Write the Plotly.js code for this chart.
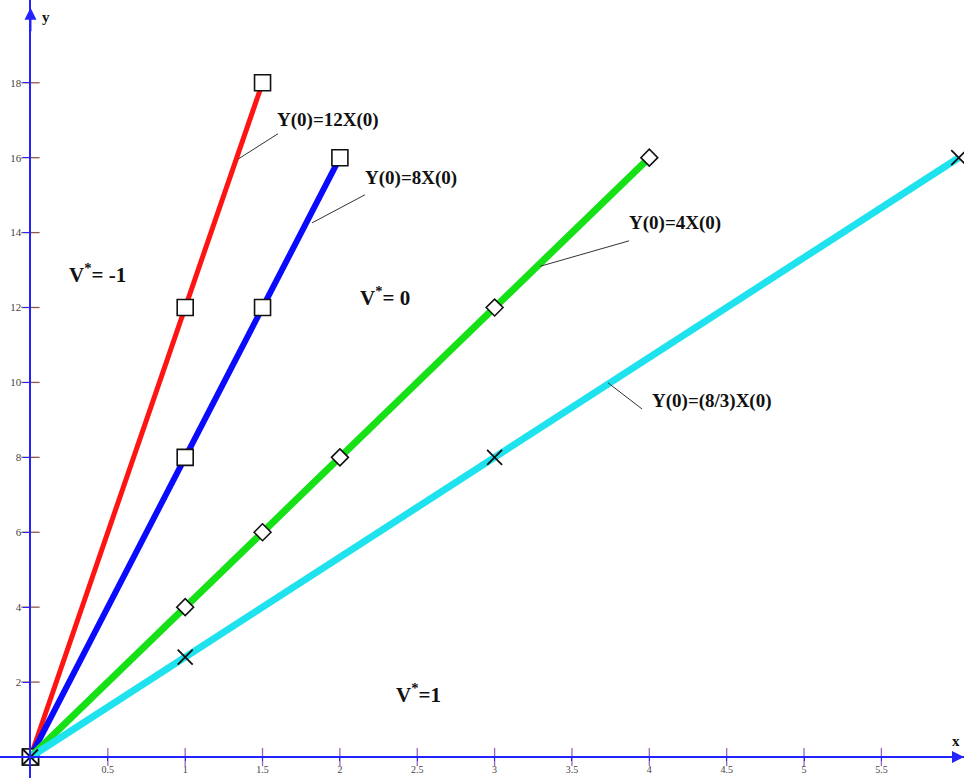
<!DOCTYPE html>
<html>
<head>
<meta charset="utf-8">
<script src="https://cdn.plot.ly/plotly-3.0.1.min.js"></script>
<style>html,body{margin:0;padding:0;background:#fff;}#chart{width:964px;height:778px;}</style>
</head>
<body>
<div id="chart"></div>
<script>
// ---- data ----
const redX = [0, 1, 1.5];
const redY = [0, 12, 18];
const blueX = [0, 1, 1.5, 2];
const blueY = [0, 8, 12, 16];
const greenX = [0, 1, 1.5, 2, 3, 4];
const greenY = [0, 4, 6, 8, 12, 16];
const cyanX = [0, 1, 3, 6];
const cyanY = [0, 2.667, 8, 16];

const xTickVals = [0.5, 1, 1.5, 2, 2.5, 3, 3.5, 4, 4.5, 5, 5.5];
const xTickText = ['0.5', '1', '1.5', '2', '2.5', '3', '3.5', '4', '4.5', '5', '5.5'];
const yTickVals = [2, 4, 6, 8, 10, 12, 14, 16, 18];
const yTickText = ['2', '4', '6', '8', '10', '12', '14', '16', '18'];

const lineLabels = ['Y(0)=12X(0)', 'Y(0)=8X(0)', 'Y(0)=4X(0)', 'Y(0)=(8/3)X(0)'];
const regionLabels = ['V<sup>*</sup>= -1', 'V<sup>*</sup>= 0', 'V<sup>*</sup>=1'];

// ---- layout constants ----
const xRange = [-0.197, 6.034];
const yRange = [-0.561, 20.21];
const axisColor = '#2323ff';
const serif = 'Liberation Serif, Times New Roman, serif';

const traces = [
  {x: redX, y: redY, mode: 'lines+markers', line: {color: '#ff1414', width: 5},
   marker: {symbol: 'square', size: 16, color: '#ffffff', opacity: 1, line: {color: '#111', width: 1.6}}},
  {x: blueX, y: blueY, mode: 'lines+markers', line: {color: '#0a0aff', width: 6},
   marker: {symbol: 'square', size: 16, color: '#ffffff', opacity: 1, line: {color: '#111', width: 1.6}}},
  {x: greenX, y: greenY, mode: 'lines+markers', line: {color: '#16e016', width: 7},
   marker: {symbol: 'diamond', size: greenX.map((v, i) => i === 0 ? 0 : 13), color: '#ffffff', opacity: 1, line: {color: '#111', width: 1.6}}},
  {x: cyanX, y: cyanY, mode: 'lines+markers', line: {color: '#1ee3ee', width: 7},
   marker: {symbol: 'x-thin', size: 15, color: '#111', line: {color: '#111', width: 1.8}}},
  // crossing tick marks on axes
  {x: xTickVals, y: xTickVals.map(() => 0), mode: 'markers', hoverinfo: 'skip',
   marker: {symbol: 'line-ns-open', size: 13, line: {color: axisColor, width: 1.3}}},
  {x: yTickVals.map(() => 0), y: yTickVals, mode: 'markers', hoverinfo: 'skip',
   marker: {symbol: 'line-ew-open', size: 13, line: {color: axisColor, width: 1.3}}}
];

const ann = [];
const labelPos = [[1.923, 17.01], [2.46, 15.46], [4.166, 14.26], [4.405, 9.51]];
lineLabels.forEach((t, i) => ann.push({x: labelPos[i][0], y: labelPos[i][1], text: '<b>' + t + '</b>', showarrow: false,
  font: {family: serif, size: 19, color: '#111'}}));
const regionPos = [[0.436, 12.9], [2.29, 12.3], [2.505, 1.7]];
regionLabels.forEach((t, i) => ann.push({x: regionPos[i][0], y: regionPos[i][1], text: '<b>' + t + '</b>', showarrow: false,
  font: {family: serif, size: 21, color: '#111'}}));
// axis names
ann.push({x: 5.985, y: 0.42, text: '<b>x</b>', showarrow: false, font: {family: serif, size: 15, color: '#111'}});
ann.push({x: 0.1, y: 19.75, text: '<b>y</b>', showarrow: false, font: {family: serif, size: 15, color: '#111'}});
// axis arrow heads
ann.push({x: xRange[1], y: 0, ax: -25, ay: 0, text: '', showarrow: true, arrowhead: 2, arrowsize: 1.2, arrowwidth: 2, arrowcolor: axisColor});
ann.push({x: 0, y: 20.0, ax: 0, ay: 25, text: '', showarrow: true, arrowhead: 2, arrowsize: 1.2, arrowwidth: 2, arrowcolor: axisColor});

const leaders = [
  [1.6, 16.64, 1.345, 15.97],
  [2.162, 15.01, 1.82, 14.26],
  [3.869, 13.78, 3.294, 13.1],
  [3.733, 9.99, 3.953, 9.29]
];
const shapes = leaders.map(l => ({type: 'line', xref: 'x', yref: 'y', x0: l[0], y0: l[1], x1: l[2], y1: l[3],
  line: {color: '#333', width: 1}}));

const layout = {
  width: 964, height: 778,
  margin: {l: 0, r: 0, t: 0, b: 0},
  paper_bgcolor: '#fff', plot_bgcolor: '#fff',
  showlegend: false,
  xaxis: {range: xRange, domain: [0, 1], anchor: 'free',
    position: (0 - yRange[0]) / (yRange[1] - yRange[0]),
    showgrid: false, zeroline: false, showline: true, linecolor: axisColor, linewidth: 2,
    tickmode: 'array', tickvals: xTickVals, ticktext: xTickText, ticks: 'outside', ticklen: 3,
    tickcolor: axisColor, tickfont: {family: serif, size: 10, color: '#444'}},
  yaxis: {range: yRange, domain: [0, 1], anchor: 'free',
    position: (0 - xRange[0]) / (xRange[1] - xRange[0]),
    showgrid: false, zeroline: false, showline: true, linecolor: axisColor, linewidth: 2,
    tickmode: 'array', tickvals: yTickVals, ticktext: yTickText, ticks: 'outside', ticklen: 6,
    tickcolor: axisColor, tickfont: {family: serif, size: 11, color: '#444'}},
  annotations: ann,
  shapes: shapes
};

Plotly.newPlot('chart', traces, layout, {staticPlot: true, displayModeBar: false});
</script>
</body>
</html>
